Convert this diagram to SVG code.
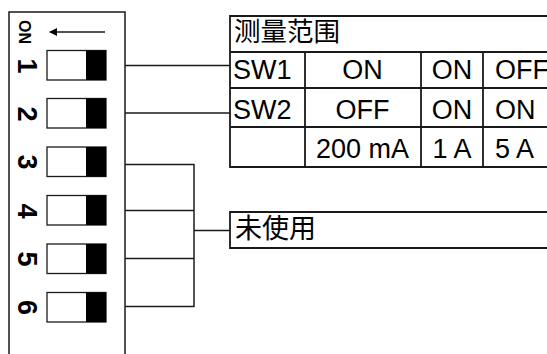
<svg xmlns="http://www.w3.org/2000/svg" width="547" height="354" viewBox="0 0 547 354">
<defs>
<style>
.ln{stroke:#1a1a1a;stroke-width:1.5;fill:none}
.sw{fill:#fff;stroke:#1a1a1a;stroke-width:1.3}
.blk{fill:#000}
.dg{font-family:"Liberation Sans",Arial,sans-serif;font-weight:bold;font-size:27px;fill:#000;text-anchor:middle}
.t{font-family:"Liberation Sans",Arial,sans-serif;font-size:27px;fill:#000}
.cjk{font-family:"Noto Sans CJK SC","Noto Sans CJK JP",sans-serif;font-size:26px;fill:#000}
</style>
<marker id="ah" markerWidth="8" markerHeight="8" refX="7" refY="4" orient="auto" markerUnits="userSpaceOnUse">
<path d="M0,0 L8,4 L0,8 Z" fill="#000"/>
</marker>
</defs>
<rect width="547" height="354" fill="#fff"/>

<g id="dip">
<path class="ln" d="M9,360 V12 H125 V360"/>
<text class="dg" style="font-size:16px" transform="translate(24.5,32) rotate(90)" x="0" y="5.7">ON</text>
<line class="ln" x1="105" y1="32" x2="50" y2="32" marker-end="url(#ah)"/>
<g id="sw1"><rect class="sw" x="47" y="50.5" width="59" height="29.5"/><rect class="blk" x="86" y="50.5" width="20" height="29.5"/><text class="dg" transform="translate(28,66) rotate(90)" x="0" y="9.7">1</text></g>
<g id="sw2"><rect class="sw" x="47" y="98.5" width="59" height="29.5"/><rect class="blk" x="86" y="98.5" width="20" height="29.5"/><text class="dg" transform="translate(28,114) rotate(90)" x="0" y="9.7">2</text></g>
<g id="sw3"><rect class="sw" x="47" y="147" width="59" height="29.5"/><rect class="blk" x="86" y="147" width="20" height="29.5"/><text class="dg" transform="translate(28,162) rotate(90)" x="0" y="9.7">3</text></g>
<g id="sw4"><rect class="sw" x="47" y="195.5" width="59" height="29.5"/><rect class="blk" x="86" y="195.5" width="20" height="29.5"/><text class="dg" transform="translate(28,211) rotate(90)" x="0" y="9.7">4</text></g>
<g id="sw5"><rect class="sw" x="47" y="244" width="59" height="29.5"/><rect class="blk" x="86" y="244" width="20" height="29.5"/><text class="dg" transform="translate(28,259) rotate(90)" x="0" y="9.7">5</text></g>
<g id="sw6"><rect class="sw" x="47" y="292.5" width="59" height="29.5"/><rect class="blk" x="86" y="292.5" width="20" height="29.5"/><text class="dg" transform="translate(28,307.5) rotate(90)" x="0" y="9.7">6</text></g>
</g>

<g id="connectors">
<line class="ln" x1="125" y1="65.5" x2="230" y2="65.5"/>
<line class="ln" x1="125" y1="113" x2="230" y2="113"/>
<line class="ln" x1="125" y1="164.5" x2="194" y2="164.5"/>
<line class="ln" x1="125" y1="210.5" x2="194" y2="210.5"/>
<line class="ln" x1="125" y1="258.5" x2="194" y2="258.5"/>
<line class="ln" x1="125" y1="306.5" x2="194" y2="306.5"/>
<line class="ln" x1="194" y1="164" x2="194" y2="307"/>
<line class="ln" x1="194" y1="230.5" x2="230" y2="230.5"/>
</g>

<g id="range-table">
<path class="ln" style="stroke-width:1.8" d="M560,16 H230 V167 H560 M230,52 H560 M230,88 H560 M230,127 H560 M305,52 V167 M421,52 V167 M483,52 V167"/>
<text class="cjk" style="font-size:26.5px" x="234" y="41">测量范围</text>
<text class="t" x="233" y="78.5">SW1</text>
<text class="t" x="362.5" y="78.5" text-anchor="middle">ON</text>
<text class="t" x="452" y="78.5" text-anchor="middle">ON</text>
<text class="t" x="495" y="78.5">OFF</text>
<text class="t" x="233" y="118.5">SW2</text>
<text class="t" x="362.5" y="118.5" text-anchor="middle">OFF</text>
<text class="t" x="452" y="118.5" text-anchor="middle">ON</text>
<text class="t" x="495" y="118.5">ON</text>
<text class="t" x="362.5" y="157.5" text-anchor="middle">200 mA</text>
<text class="t" x="452" y="157.5" text-anchor="middle">1 A</text>
<text class="t" x="495" y="157.5">5 A</text>
</g>

<g id="unused">
<path class="ln" style="stroke-width:1.8" d="M560,212 H230 V248 H560"/>
<text class="cjk" style="font-size:27px" x="235" y="238">未使用</text>
</g>
</svg>
